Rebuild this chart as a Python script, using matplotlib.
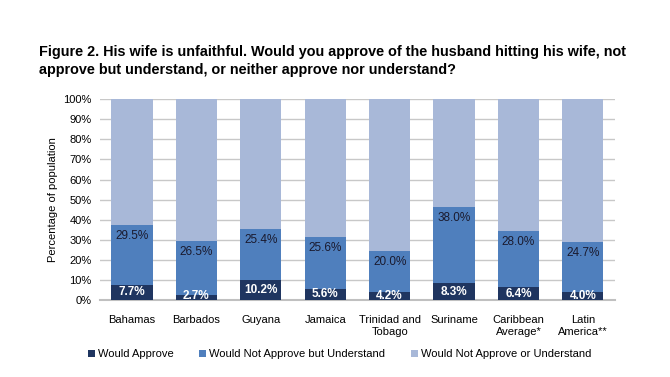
import matplotlib

matplotlib.use("Agg")
import matplotlib.pyplot as plt
import numpy as np

plt.rcParams["font.family"] = ["Liberation Sans", "DejaVu Sans"]

countries = ["Bahamas", "Barbados", "Guyana", "Jamaica", "Trinidad and\nTobago",
             "Suriname", "Caribbean\nAverage*", "Latin\nAmerica**"]
approve = [7.7, 2.7, 10.2, 5.6, 4.2, 8.3, 6.4, 4.0]
understand = [29.5, 26.5, 25.4, 25.6, 20.0, 38.0, 28.0, 24.7]
neither = [100 - a - b for a, b in zip(approve, understand)]

c_dark = "#1f3560"
c_mid = "#4f7fbd"
c_light = "#a8b8d8"

fig = plt.figure(figsize=(6.7, 3.77), dpi=100)
ax = fig.add_axes([0.149, 0.204, 0.769, 0.533])

x = np.arange(len(countries))
w = 0.64
a = np.array(approve)
b = np.array(understand)
ax.bar(x, a, w, color=c_dark, label="Would Approve", zorder=3)
ax.bar(x, b, w, bottom=a, color=c_mid, label="Would Not Approve but Understand", zorder=3)
ax.bar(x, neither, w, bottom=a + b, color=c_light, label="Would Not Approve or Understand", zorder=3)

for xi, ai, bi in zip(x, a, b):
    ax.text(xi, max(ai / 2, 2.2), f"{ai:.1f}%", ha="center", va="center",
            color="white", fontsize=8.5, fontweight="bold", zorder=4)
    ax.text(xi, ai + bi - 2.5, f"{bi:.1f}%", ha="center", va="top",
            color="#1a1a2e", fontsize=8.5, zorder=4)

ax.set_xlim(-0.5, len(countries) - 0.5)
ax.set_ylim(0, 100)
ax.set_yticks(range(0, 101, 10))
ax.set_yticklabels([f"{v}%" for v in range(0, 101, 10)], fontsize=8)
ax.set_xticks(x)
ax.set_xticklabels(countries, fontsize=8)
ax.tick_params(axis="y", length=0, pad=6)
ax.tick_params(axis="x", length=0, pad=11)
ax.set_ylabel("Percentage of population", fontsize=8)
ax.grid(True, axis="y", color="#c8c8c8", linewidth=1, zorder=0)
for s in ["top", "right", "left"]:
    ax.spines[s].set_visible(False)
ax.spines["bottom"].set_color("#c0c0c0")
ax.spines["bottom"].set_linewidth(1.5)

fig.text(0.058, 0.838,
         "Figure 2. His wife is unfaithful. Would you approve of the husband hitting his wife, not\n"
         "approve but understand, or neither approve nor understand?",
         fontsize=10.35, fontweight="bold", ha="left", va="center", linespacing=1.3)

fig.legend(loc="center", bbox_to_anchor=(0.507, 0.061), ncol=3, frameon=False,
           fontsize=8, handlelength=0.6, handleheight=0.6, handletextpad=0.3,
           columnspacing=2.3)

fig.savefig("out.png", dpi=100)
